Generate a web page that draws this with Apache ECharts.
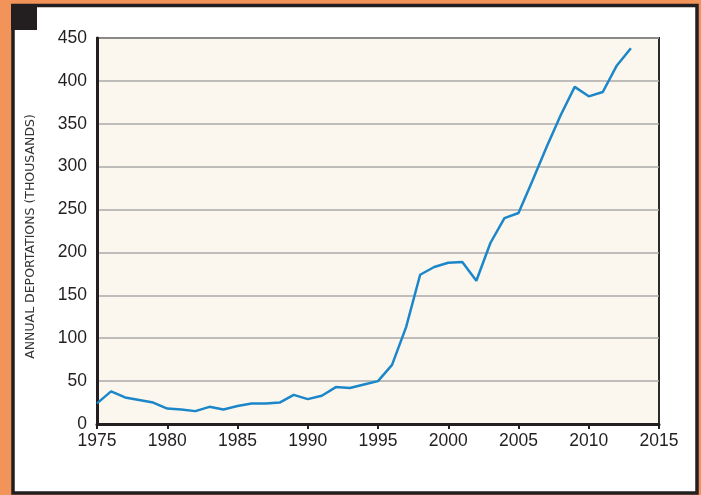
<!DOCTYPE html>
<html><head><meta charset="utf-8">
<script src="https://cdn.jsdelivr.net/npm/echarts@6/dist/echarts.min.js"></script>
<style>html,body{margin:0;padding:0;background:#F2945A}#c{width:701px;height:495px}</style>
</head><body><div id="c"></div>
<script>
const years = [1975,1976,1977,1978,1979,1980,1981,1982,1983,1984,1985,1986,1987,1988,1989,1990,1991,1992,1993,1994,1995,1996,1997,1998,1999,2000,2001,2002,2003,2004,2005,2006,2007,2008,2009,2010,2011,2012,2013];
const deportations = [24,38,31,28,25,18,17,15,20,17,21,24,24,25,34,29,33,43,42,46,50,69,113,174,183,188,189,167,211,240,246,284,323,360,393,382,387,418,438];
const yTicks = [0,50,100,150,200,250,300,350,400,450];
const xTicks = [1975,1980,1985,1990,1995,2000,2005,2010,2015];
const yTitle = 'ANNUAL DEPORTATIONS (THOUSANDS)';

const chart = echarts.init(document.getElementById('c'));
chart.setOption({
  backgroundColor: '#F2945A',
  animation: false,
  graphic: [
    {type:'rect', z:-10, shape:{x:13,y:5.5,width:684,height:487.5}, style:{fill:'#ffffff', stroke:'#231F20', lineWidth:3.5}},
    {type:'rect', z:-9, shape:{x:11,y:4,width:26,height:26}, style:{fill:'#231F20'}},
    {type:'text', x:31, y:236.5, rotation:Math.PI/2, z:10,
      style:{text:yTitle, fill:'#333', font:'12.5px "DejaVu Sans"', align:'center', verticalAlign:'middle'}}
  ],
  grid: {left:97, right:42, top:38, bottom:71, show:true, backgroundColor:'#FBF6EE', borderColor:'#2b2b2b', borderWidth:2},
  xAxis: {
    type:'value', min:1975, max:2015, interval:5,
    axisLine:{show:true, onZero:false, lineStyle:{color:'#231F20', width:3}},
    axisTick:{show:true, length:5, lineStyle:{color:'#231F20', width:2}},
    axisLabel:{color:'#231F20', fontFamily:'Liberation Sans', fontSize:17.5, margin:8,
      formatter: v => xTicks.includes(v) ? String(v) : ''},
    splitLine:{show:false}
  },
  yAxis: {
    type:'value', min:0, max:450, interval:50,
    axisLine:{show:true, lineStyle:{color:'#231F20', width:3}},
    axisTick:{show:false},
    axisLabel:{color:'#231F20', fontFamily:'Liberation Sans', fontSize:17.5, margin:10,
      formatter: v => yTicks.includes(v) ? String(v) : ''},
    splitLine:{show:true, lineStyle:{color:'#aaaaaa', width:1.5}}
  },
  series: [{
    type:'line', data: years.map((y,i)=>[y, deportations[i]]),
    symbol:'none', lineStyle:{color:'#1B87C9', width:2.5}, itemStyle:{color:'#1B87C9'}
  }]
});
</script></body></html>
